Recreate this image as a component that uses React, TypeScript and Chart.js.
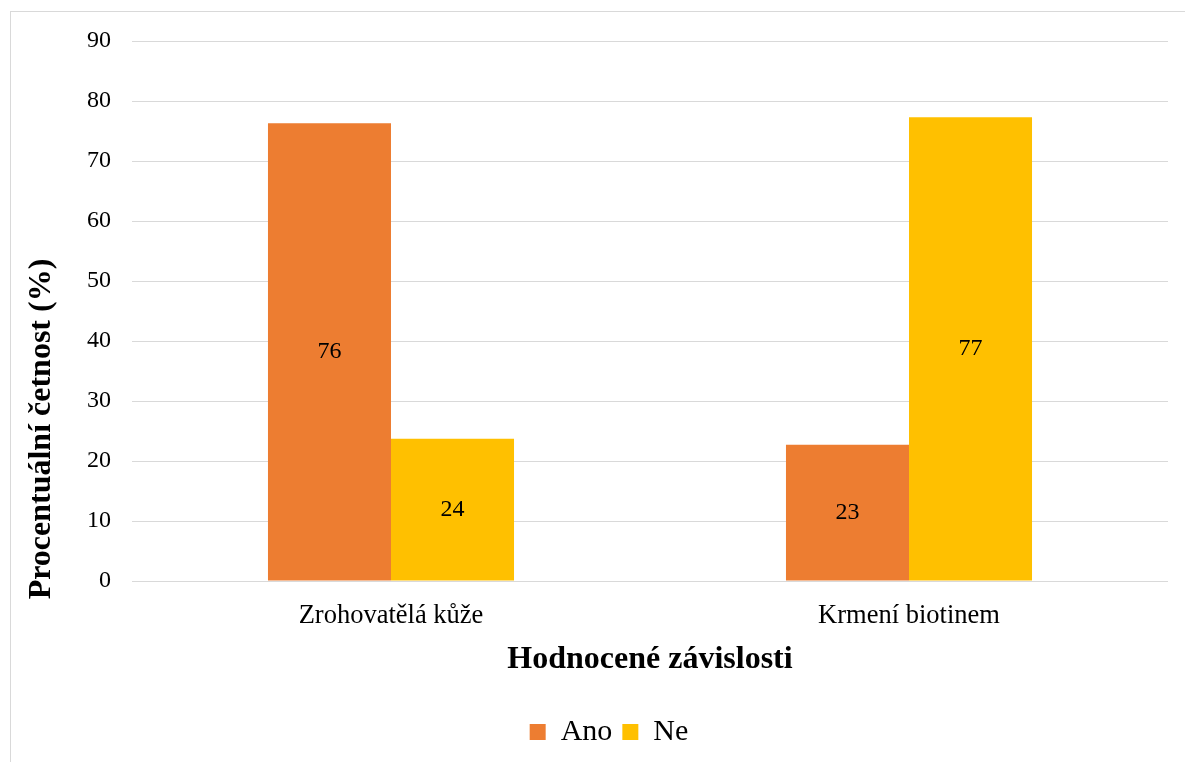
import React, { useEffect, useRef } from "react";
import { Chart, registerables } from "chart.js";

Chart.register(...registerables);

const categories = ["Zrohovatělá kůže", "Krmení biotinem"];
const seriesNames = ["Ano", "Ne"];
const anoValues = [76.3, 22.7];
const neValues = [23.7, 77.3];
const dataLabels = [
  ["76", "23"],
  ["24", "77"],
];
const yTitle = "Procentuální četnost (%)";
const xTitle = "Hodnocené závislosti";

const FONT = '"Liberation Serif", "Times New Roman", serif';

export default function App() {
  const ref = useRef<HTMLCanvasElement | null>(null);

  useEffect(() => {
    if (!ref.current) return;
    const decor = {
      id: "decor",
      afterLayout(chart: any) {
        if (chart.legend) {
          chart.legend.left += 25;
          chart.legend.right += 25;
        }
      },
      beforeDraw(chart: any) {
        const ctx = chart.ctx;
        ctx.save();
        ctx.fillStyle = "#ffffff";
        ctx.fillRect(0, 0, chart.width, chart.height);
        ctx.strokeStyle = "#d9d9d9";
        ctx.lineWidth = 1;
        ctx.strokeRect(10.5, 11.5, 1300, 900);
        ctx.restore();
      },
      afterDraw(chart: any) {
        const ctx = chart.ctx;
        ctx.save();
        ctx.fillStyle = "#000000";
        ctx.font = `24px ${FONT}`;
        ctx.textAlign = "center";
        ctx.textBaseline = "middle";
        chart.data.datasets.forEach((ds: any, di: number) => {
          const meta = chart.getDatasetMeta(di);
          meta.data.forEach((bar: any, i: number) => {
            const yMid = (bar.y + bar.base) / 2;
            ctx.fillText(dataLabels[di][i], bar.x, yMid);
          });
        });
        // y axis title
        ctx.font = `bold 32px ${FONT}`;
        ctx.translate(42, 429);
        ctx.rotate(-Math.PI / 2);
        ctx.fillText(yTitle, 0, 0);
        ctx.restore();
      },
    };

    const chart = new Chart(ref.current, {
      type: "bar",
      data: {
        labels: categories,
        datasets: [
          {
            label: seriesNames[0],
            data: anoValues,
            backgroundColor: "#ED7D31",
            categoryPercentage: 0.475,
            barPercentage: 1,
          },
          {
            label: seriesNames[1],
            data: neValues,
            backgroundColor: "#FFC000",
            categoryPercentage: 0.475,
            barPercentage: 1,
          },
        ],
      },
      options: {
        responsive: false,
        animation: false,
        layout: { padding: { left: 0, right: 17, top: 41, bottom: 5 } },
        plugins: {
          legend: {
            position: "bottom",
            labels: {
              color: "#000",
              font: { family: FONT, size: 30 },
              boxWidth: 16,
              boxHeight: 16,
              padding: 10,
            },
          },
          tooltip: { enabled: false },
          title: { display: false },
        },
        scales: {
          x: {
            grid: { display: false, drawTicks: false },
            border: { display: false },
            ticks: {
              color: "#000",
              font: { family: FONT, size: 26.5 },
              padding: 19,
            },
            title: {
              display: true,
              text: xTitle,
              color: "#000",
              font: { family: FONT, size: 32, weight: "bold" },
              padding: { top: 0, bottom: 28 },
            },
            afterFit(scale: any) {
              scale.height = 126;
            },
          },
          y: {
            min: 0,
            max: 90,
            grid: { color: "#d9d9d9", lineWidth: 1, drawTicks: false },
            border: { display: false },
            ticks: {
              stepSize: 10,
              color: "#000",
              font: { family: FONT, size: 24 },
              padding: 21,
            },
            afterFit(scale: any) {
              scale.width = 132;
            },
          },
        },
      },
      plugins: [decor],
    });
    return () => chart.destroy();
  }, []);

  return (
    <div style={{ position: "absolute", left: 0, top: 0, width: 1185, height: 762 }}>
      <canvas ref={ref} width={1185} height={762} style={{ display: "block" }} />
    </div>
  );
}
